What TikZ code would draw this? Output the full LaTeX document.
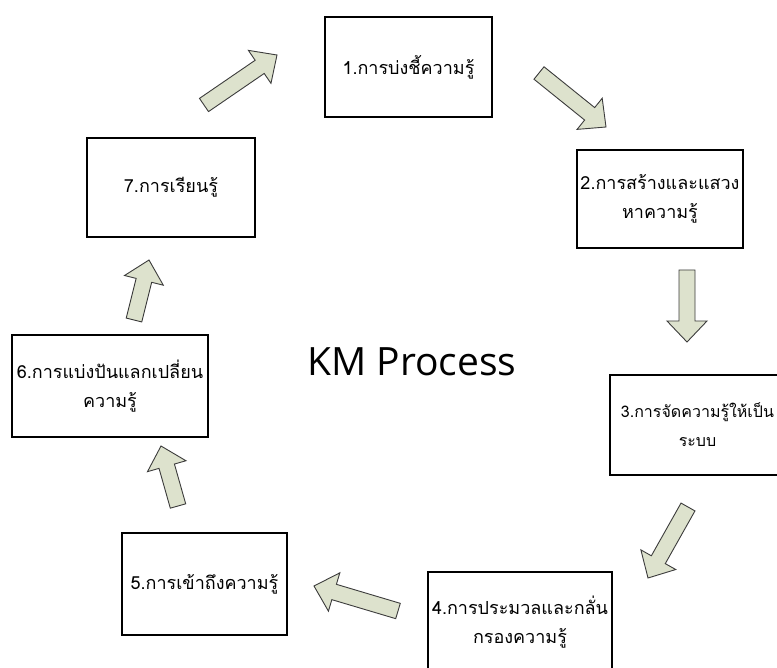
\documentclass[tikz,border=0pt]{standalone}
\usepackage{fontspec}
\usetikzlibrary{calc}
\newfontfamily\thaifont[Script=Thai]{Loma}
\newfontfamily\titlefont{Open Sans}
\definecolor{arrfill}{RGB}{221,226,205}
\definecolor{arrline}{RGB}{60,60,60}
\tikzset{
  kmbox/.style={draw=black, line width=2.6pt, inner sep=0pt, align=center,
    font=\thaifont\fontsize{18}{29}\selectfont},
  barrow/.style={draw=arrline, fill=arrfill, line width=0.9pt, line join=miter},
}
\newcommand\blockarr[2]{%
  \coordinate (hb) at ($(#2)!21pt!(#1)$);
  \draw[barrow] ($(#1)!8pt!90:(#2)$) -- ($(hb)!8pt!90:(#2)$) -- ($(hb)!20pt!90:(#2)$)
    -- (#2) -- ($(hb)!20pt!-90:(#2)$) -- ($(hb)!8pt!-90:(#2)$) -- ($(#1)!8pt!-90:(#2)$) -- cycle;
}
\begin{document}
\begin{tikzpicture}[x=1pt,y=-1pt]
\useasboundingbox (0,0) rectangle (777,668);
\fill[white] (0,0) rectangle (777,668);
\node[kmbox, minimum width=167pt, minimum height=100pt] (b1) at (408.5,67) {1.การบ่งชี้ความรู้};
\node[kmbox, minimum width=166pt, minimum height=98pt] (b2) at (660,199) {2.การสร้างและแสวง\\หาความรู้};
\node[kmbox, minimum width=175pt, minimum height=100pt, font=\thaifont\fontsize{16}{29}\selectfont] (b3) at (697.5,425) {3.การจัดความรู้ให้เป็น\\ระบบ};
\node[kmbox, minimum width=184pt, minimum height=101pt] (b4) at (520,622.5) {4.การประมวลและกลั่น\\กรองความรู้};
\node[kmbox, minimum width=165pt, minimum height=102pt] (b5) at (204.5,584) {5.การเข้าถึงความรู้};
\node[kmbox, minimum width=196pt, minimum height=102pt] (b6) at (110,386) {6.การแบ่งปันแลกเปลี่ยน\\ความรู้};
\node[kmbox, minimum width=168pt, minimum height=99pt] (b7) at (171,187.5) {7.การเรียนรู้};
\node[font=\titlefont\fontsize{39}{45}\selectfont, inner sep=0pt] (title) at (412,362) {KM Process};
% arrow end points
\coordinate (a1t) at (204,105); \coordinate (a1h) at (277,55);
\coordinate (a2t) at (539,73);  \coordinate (a2h) at (606,127);
\coordinate (a3t) at (687,270); \coordinate (a3h) at (687,342);
\coordinate (a4t) at (688,507); \coordinate (a4h) at (648,578);
\coordinate (a5t) at (398,611); \coordinate (a5h) at (314,586);
\coordinate (a6t) at (178,506); \coordinate (a6h) at (161,446);
\coordinate (a7t) at (134,320); \coordinate (a7h) at (149,260);
\blockarr{a1t}{a1h}
\blockarr{a2t}{a2h}
\blockarr{a3t}{a3h}
\blockarr{a4t}{a4h}
\blockarr{a5t}{a5h}
\blockarr{a6t}{a6h}
\blockarr{a7t}{a7h}
\end{tikzpicture}
\end{document}
